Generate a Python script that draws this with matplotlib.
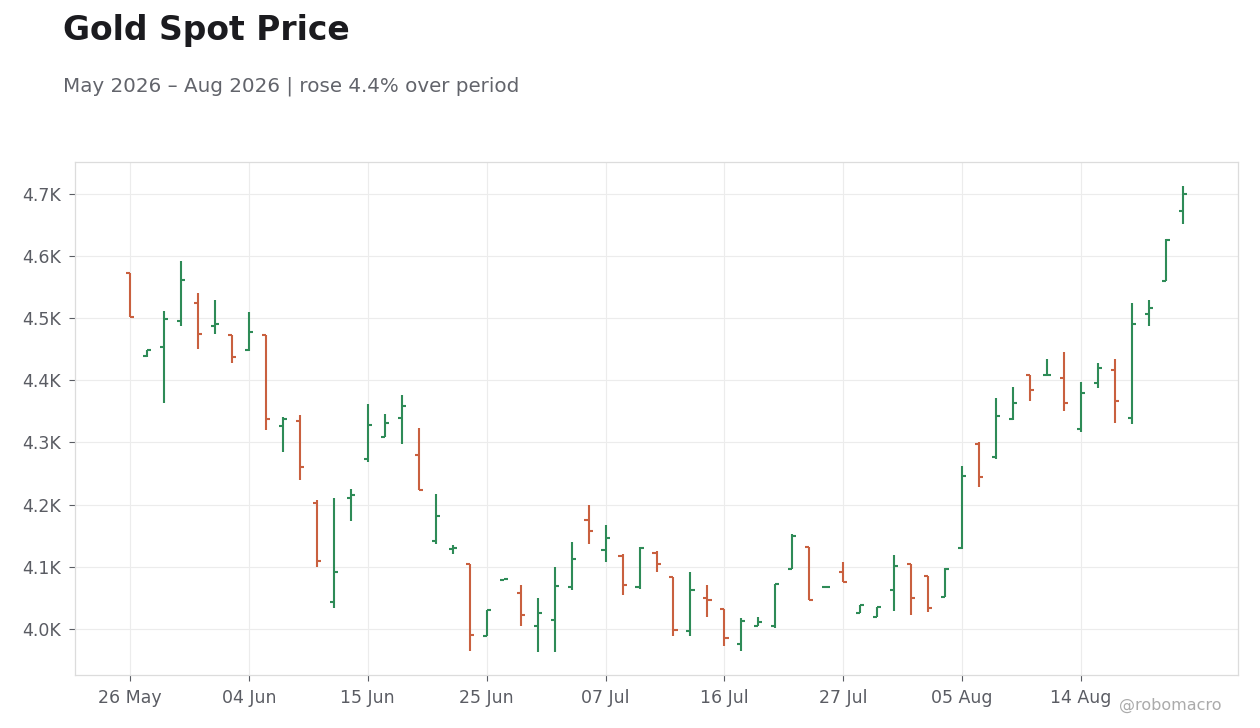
import matplotlib
matplotlib.use("Agg")
import matplotlib.pyplot as plt
from matplotlib.ticker import FuncFormatter, FixedLocator

# ---- data (US trading days, 26 May 2026 .. 24 Aug 2026) ----
opens = [4572, 4439, 4454, 4495, 4524, 4488, 4472, 4448, 4472, 4326,
         4334, 4202, 4044, 4210, 4273, 4309, 4340, 4280, 4141, 4128,
         4105, 3989, 4079, 4058, 4004, 4015, 4068, 4176, 4127, 4118,
         4068, 4123, 4083, 3997, 4050, 4032, 3976, 4005, 4004, 4097,
         4132, 4068, 4091, 4026, 4020, 4062, 4104, 4085, 4052, 4131,
         4298, 4277, 4337, 4409, 4408, 4404, 4322, 4395, 4416, 4340,
         4507, 4560, 4673]
highs = [4573, 4449, 4512, 4592, 4541, 4529, 4472, 4510, 4472, 4341,
         4344, 4207, 4211, 4225, 4362, 4346, 4377, 4323, 4217, 4135,
         4105, 4031, 4081, 4071, 4050, 4100, 4140, 4200, 4167, 4120,
         4132, 4126, 4083, 4092, 4071, 4032, 4018, 4019, 4073, 4153,
         4132, 4069, 4108, 4039, 4036, 4119, 4105, 4086, 4098, 4262,
         4300, 4372, 4389, 4409, 4434, 4446, 4397, 4428, 4434, 4525,
         4529, 4627, 4713]
lows = [4501, 4437, 4364, 4488, 4450, 4475, 4428, 4447, 4320, 4285,
        4240, 4100, 4033, 4174, 4269, 4309, 4297, 4224, 4136, 4120,
        3965, 3989, 4078, 4004, 3963, 3963, 4063, 4136, 4108, 4054,
        4065, 4092, 3988, 3988, 4020, 3973, 3965, 4004, 4001, 4096,
        4047, 4067, 4076, 4026, 4019, 4029, 4023, 4028, 4051, 4129,
        4229, 4274, 4336, 4366, 4407, 4351, 4316, 4387, 4332, 4329,
        4487, 4559, 4652]
closes = [4501, 4448, 4499, 4561, 4475, 4490, 4437, 4477, 4338, 4337,
          4261, 4110, 4091, 4216, 4328, 4332, 4359, 4224, 4182, 4131,
          3991, 4031, 4080, 4023, 4025, 4069, 4113, 4157, 4147, 4071,
          4131, 4105, 3999, 4062, 4046, 3986, 4013, 4012, 4073, 4149,
          4047, 4068, 4076, 4038, 4036, 4102, 4050, 4034, 4097, 4246,
          4244, 4342, 4363, 4384, 4409, 4364, 4380, 4419, 4367, 4490,
          4517, 4625, 4699]
tick_positions = [0, 7, 14, 21, 28, 35, 42, 49, 56]
tick_labels = ["26 May", "04 Jun", "15 Jun", "25 Jun", "07 Jul",
               "16 Jul", "27 Jul", "05 Aug", "14 Aug"]

title = "Gold Spot Price"
subtitle = "May 2026 \u2013 Aug 2026 | rose 4.4% over period"
watermark = "@robomacro"

UP = "#2e8b57"
DOWN = "#c9603f"
TXT = "#5a5c63"

plt.rcParams['font.family'] = ['DejaVu Sans']

fig = plt.figure(figsize=(12.6, 7.28), dpi=100)
fig.patch.set_facecolor("white")
ax = fig.add_axes([75/1260, 1-675/728, (1238-75)/1260, (675-162)/728])

x = list(range(len(opens)))
cols = [UP if c >= o else DOWN for o, c in zip(opens, closes)]
tw = 0.24
lw = 1.5
ax.vlines(x, lows, highs, colors=cols, linewidth=lw, zorder=3)
lc1 = ax.hlines(opens, [i - tw for i in x], x, colors=cols, linewidth=lw, zorder=3)
lc2 = ax.hlines(closes, x, [i + tw for i in x], colors=cols, linewidth=lw, zorder=3)
for lc in (lc1, lc2):
    lc.set_capstyle('butt')

ax.set_xlim(-3.24, 65.24)
ax.set_ylim(3926, 4751)
ax.yaxis.set_major_locator(FixedLocator([4000, 4100, 4200, 4300, 4400, 4500, 4600, 4700]))
ax.yaxis.set_major_formatter(FuncFormatter(lambda v, p: f"{v/1000:.1f}K"))
ax.set_xticks(tick_positions)
ax.set_xticklabels(tick_labels)

ax.grid(True, color="#ececec", linewidth=0.8, zorder=0)
ax.set_axisbelow(True)
for s in ax.spines.values():
    s.set_color("#dcdcdc")
    s.set_linewidth(0.9)
ax.tick_params(axis='both', direction='out', length=4, width=0.8,
               color="#5a5c63", labelcolor=TXT, labelsize=12.5, pad=6)

fig.text(63/1260, 1-40/728, title, fontsize=23.8, fontweight='bold',
         color="#1b1b1f", va='baseline', ha='left')
fig.text(63/1260, 1-91/728, subtitle, fontsize=14.3, color="#62646b",
         va='baseline', ha='left')
fig.text(1221/1260, 1-710/728, watermark, fontsize=11.5, color="#ababab",
         va='baseline', ha='right')

fig.savefig("out.png", dpi=100, facecolor="white")
